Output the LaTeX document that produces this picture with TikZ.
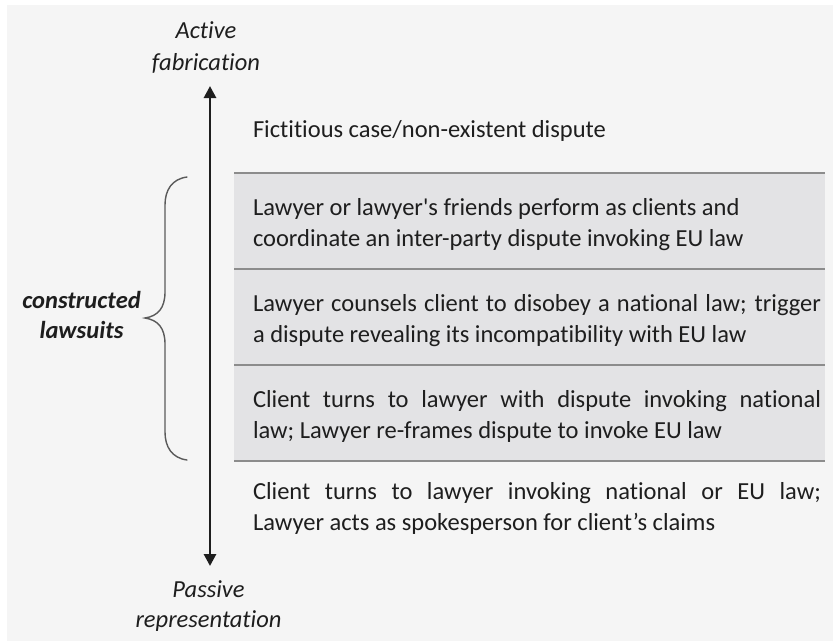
\documentclass[tikz,border=0pt]{standalone}
\usepackage{fontspec}
\setmainfont{Carlito}[Ligatures={NoCommon}]
\usetikzlibrary{arrows.meta}
\definecolor{bg}{HTML}{F5F5F5}
\definecolor{rowfill}{HTML}{E3E3E5}
\definecolor{rulec}{HTML}{8C8C8C}
\definecolor{ink}{HTML}{1E1E1E}
\definecolor{bracec}{HTML}{5A5A5A}
\newcommand{\jline}[1]{\makebox[568pt][s]{#1}}
\newcommand{\rowtext}[1]{\parbox[t]{580pt}{\raggedright #1}}
\begin{document}
\begin{tikzpicture}[x=1pt,y=-1pt,
  txt/.style={anchor=base west, inner sep=0pt, outer sep=0pt, text=ink, font=\fontsize{24.5}{31}\selectfont},
  lbl/.style={anchor=base, align=center, inner sep=0pt, text=ink, font=\fontsize{24.5}{31}\selectfont\itshape},
  rowbox/.style={fill=rowfill, draw=none},
  rowline/.style={draw=rulec, line width=2pt},
  axis/.style={draw=ink, line width=2.8pt, {Triangle[width=12pt,length=12pt]}-{Triangle[width=12pt,length=12pt]}},
  bracestyle/.style={draw=bracec, line width=1.4pt, line cap=round}]
\useasboundingbox (0,0) rectangle (833,641);
\fill[white] (0,0) rectangle (833,641);
\fill[bg] (7,5) rectangle (833,641);
% shaded rows
\fill[rowbox] (234,173) rectangle (825,461);
\coordinate (l0w) at (234,173); \coordinate (l0e) at (825,173);
\coordinate (l1w) at (234,269); \coordinate (l1e) at (825,269);
\coordinate (l2w) at (234,365); \coordinate (l2e) at (825,365);
\coordinate (l3w) at (234,461); \coordinate (l3e) at (825,461);
\draw[rowline] (l0w) -- (l0e);
\draw[rowline] (l1w) -- (l1e);
\draw[rowline] (l2w) -- (l2e);
\draw[rowline] (l3w) -- (l3e);
% row texts
\node[txt] (r0) at (253,137) {Fictitious case/non-existent dispute};
\node[txt] (r1) at (253,215) {\rowtext{Lawyer or lawyer\textquotesingle s friends perform as clients and\\coordinate an inter-party dispute invoking EU law}};
\node[txt] (r2) at (253,311) {\rowtext{\jline{Lawyer counsels client to disobey a national law; trigger}\\a dispute revealing its incompatibility with EU law}};
\node[txt] (r3) at (253,407) {\rowtext{\jline{Client turns to lawyer with dispute invoking national}\\law; Lawyer re-frames dispute to invoke EU law}};
\node[txt] (r4) at (253,499) {\rowtext{\jline{Client turns to lawyer invoking national or EU law;}\\Lawyer acts as spokesperson for client’s claims}};
% axis labels (base anchor = last line)
\node[lbl, font=\fontsize{24.5}{32}\selectfont\itshape] (top) at (206,70) {Active\\fabrication};
\node[lbl, font=\fontsize{24.5}{30}\selectfont\itshape] (bot) at (208.5,627) {Passive\\representation};
\node[lbl, font=\fontsize{24.5}{30}\selectfont\bfseries\itshape] (cl) at (81.5,338) {constructed\\lawsuits};
% axis arrow
\coordinate (atop) at (210,86);
\coordinate (abot) at (210,566);
\draw[axis] (atop) -- (abot);
% brace
\coordinate (bt) at (187,177);
\coordinate (btip) at (145,318);
\coordinate (bb) at (187,460);
\draw[bracestyle] (bt) .. controls (172,179) and (165,190) .. (165,205) -- (165,292)
  .. controls (165,308) and (158,316) .. (btip)
  .. controls (158,320) and (165,328) .. (165,344) -- (165,432)
  .. controls (165,447) and (172,458) .. (bb);
\end{tikzpicture}
\end{document}
